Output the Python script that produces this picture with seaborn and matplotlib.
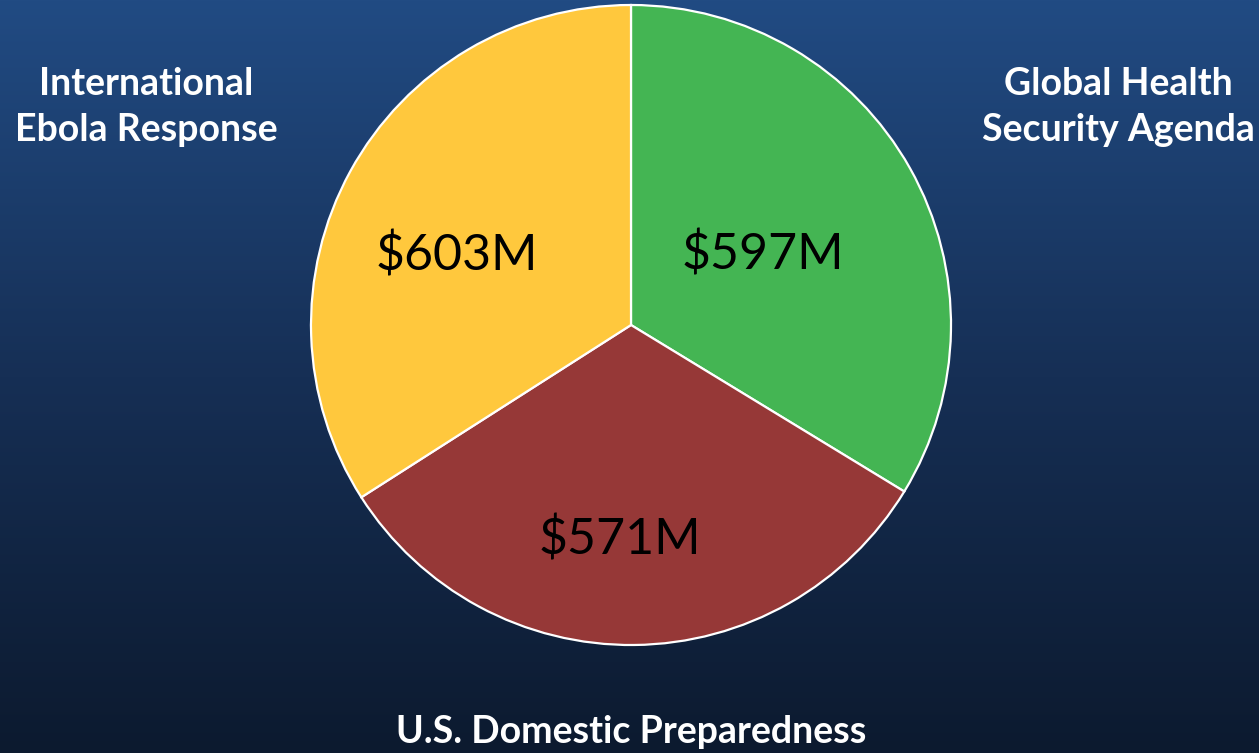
import numpy as np
import matplotlib
matplotlib.use("Agg")
import matplotlib.pyplot as plt
import seaborn as sns
from matplotlib.colors import LinearSegmentedColormap

# Data
categories = ["Global Health\nSecurity Agenda", "U.S. Domestic Preparedness", "International\nEbola Response"]
values = [597, 571, 603]
value_labels = ["$597M", "$571M", "$603M"]
colors = ["#44B553", "#963837", "#FFC83D"]

# label placement inside each wedge (radius, angle shift in degrees)
label_radius = [0.467, 0.673, 0.586]
label_shift = [-1.3, -3.5, 7.0]

sns.set_theme(style="white")
plt.rcParams["font.family"] = ["Lato", "DejaVu Sans"]

W, H = 1259, 753
fig = plt.figure(figsize=(W / 100, H / 100), dpi=100)

# background gradient
bg = fig.add_axes([0, 0, 1, 1])
grad = np.linspace(0, 1, 256).reshape(-1, 1)
cmap = LinearSegmentedColormap.from_list("bg", ["#214b83", "#162f55", "#0c1a2f"])
bg.imshow(grad, aspect="auto", cmap=cmap, extent=[0, 1, 0, 1], origin="upper")
bg.set_axis_off()

# pie axes: center (631, 325) px, radius 320 px
cx, cy, r = 631, 325, 320
ax = fig.add_axes([(cx - r) / W, (H - cy - r) / H, 2 * r / W, 2 * r / H])
wedges, _ = ax.pie(values, colors=colors, startangle=90, counterclock=False,
                   wedgeprops=dict(edgecolor="white", linewidth=1.6))
ax.set_xlim(-1, 1)
ax.set_ylim(-1, 1)

for w, lab, rad, sh in zip(wedges, value_labels, label_radius, label_shift):
    ang = np.deg2rad((w.theta1 + w.theta2) / 2 + sh)
    ax.text(rad * np.cos(ang), rad * np.sin(ang), lab, ha="center", va="center",
            fontsize=36, color="black")

# category labels
fig.text(146 / W, 1 - 107 / H, categories[2], ha="center", va="center",
         fontsize=27, fontweight="bold", color="white", linespacing=1.4)
fig.text(1118 / W, 1 - 107 / H, categories[0], ha="center", va="center",
         fontsize=27, fontweight="bold", color="white", linespacing=1.4)
fig.text(631 / W, 1 - 732 / H, categories[1], ha="center", va="center",
         fontsize=27, fontweight="bold", color="white")

fig.savefig("out.png", dpi=100)
plt.close(fig)
